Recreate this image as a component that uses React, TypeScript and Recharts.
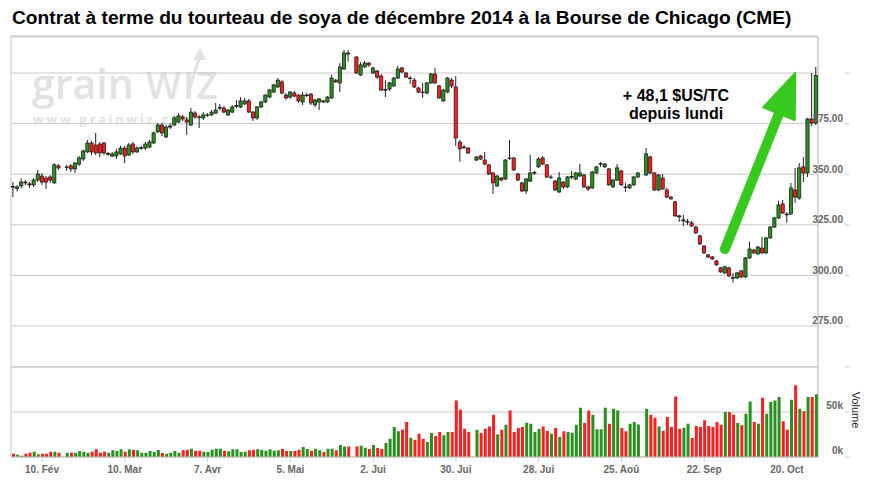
import React from "react";
import { ComposedChart, Bar, XAxis, YAxis, CartesianGrid, Cell, ReferenceLine } from "recharts";

// trading days (weekdays) from 30 Jan 2014 to 29 Oct 2014, holidays left empty
const dates: string[] = [];
for (let t = Date.UTC(2014, 0, 30); dates.length < 195; t += 86400000) {
  const wd = new Date(t).getUTCDay();
  if (wd !== 0 && wd !== 6) dates.push(new Date(t).toISOString().slice(0, 10));
}

const tickDates = ["2014-02-10", "2014-03-10", "2014-04-07", "2014-05-05", "2014-06-02", "2014-06-30", "2014-07-28", "2014-08-25", "2014-09-22", "2014-10-20"];
const tickLabels = ["10. Fév", "10. Mar", "7. Avr", "5. Mai", "2. Jui", "30. Jui", "28. Jui", "25. Aoû", "22. Sep", "20. Oct"];
const priceTicks = [275, 300, 325, 350, 375, 400];
const volumeTicks = [0, 50, 100];

const opens = [
  343.9, 342.9, 344.2, 346.1, 345.2, 344.7, 347.1, 349.1, 348.1, 348.6,
  345.7, 354.1, null, 353.4, 354.1, 352.6, 355.0, 357.5, 361.0, 365.4,
  364.4, 364.9, 365.4, 360.0, 359.0, 359.0, 360.0, 362.9, 359.5, 364.9,
  361.0, 362.9, 362.9, 363.4, 365.4, 370.9, 374.3, 368.4, 373.3, 374.3,
  375.8, 378.3, 376.8, 374.3, 380.2, 378.3, 377.8, 379.3, 379.3, 380.2,
  382.7, 382.7, 379.3, 380.7, 383.7, 383.2, 384.7, 386.2, 380.7, 377.8,
  383.2, 385.7, 388.1, 390.6, 393.1, 395.6, 389.1, 388.1, 390.1, 389.1,
  385.7, 389.1, 389.6, 384.2, 385.7, 386.2, 385.7, 387.7, 396.5, 395.1,
  402.0, 409.9, null, 407.9, 399.0, 403.0, 404.9, 400.0, 401.0, 398.5,
  391.6, 392.1, 393.6, 397.5, 402.5, 400.0, 397.5, 396.5, 392.6, 390.6,
  390.1, 395.1, 399.5, 393.6, 386.2, 390.6, 396.5, 393.1, 365.9, 363.4,
  362.9, null, 357.0, 359.0, 357.0, 354.6, 350.6, 344.2, 348.1, 347.6,
  358.0, 358.0, 350.1, 345.7, 341.7, 346.6, 350.6, 353.6, 358.0, 354.6,
  348.6, 346.6, 341.2, 346.1, 343.7, 348.6, 347.6, 349.1, 349.6, 343.7,
  343.2, 350.6, 355.0, 353.6, 352.6, 343.7, 347.1, 351.6, 343.7, 343.2,
  344.7, 348.6, null, 349.6, 358.5, 350.6, 342.2, 348.1, 342.2, 338.7,
  336.3, 329.4, 326.9, 326.4, 325.9, 323.9, 319.5, 314.5, 310.1, 309.1,
  307.1, 303.7, 301.2, 303.7, 298.9, 298.7, 302.2, 299.2, 308.6, 312.5,
  310.6, 313.5, 311.1, 318.5, 323.9, 328.4, 335.3, 330.3, 330.3, 342.2,
  338.2, 353.6, 350.6, 377.3, 375.3,
];
const highs = [
  346.1, 344.5, 348.0, 347.1, 346.1, 348.1, 352.1, 350.6, 349.1, 349.6,
  355.5, 355.0, null, 354.6, 355.0, 356.0, 359.0, 362.0, 366.9, 366.4,
  370.4, 365.9, 366.0, 361.0, 361.0, 362.5, 364.0, 363.9, 365.4, 365.9,
  363.9, 364.0, 365.9, 366.9, 371.0, 375.3, 375.3, 374.3, 375.3, 378.8,
  380.2, 379.3, 378.3, 382.7, 381.2, 379.3, 380.7, 380.2, 381.7, 385.2,
  384.7, 383.7, 382.2, 384.2, 386.7, 388.1, 387.7, 387.2, 381.2, 383.7,
  386.2, 389.6, 392.1, 394.6, 397.5, 396.5, 390.1, 391.1, 391.1, 389.6,
  390.6, 390.1, 390.1, 387.2, 387.7, 386.7, 388.6, 399.0, 397.0, 404.9,
  411.4, 411.4, null, 408.4, 405.4, 405.9, 405.4, 403.0, 401.5, 399.5,
  396.5, 395.6, 398.0, 403.5, 403.0, 400.5, 398.5, 397.5, 393.1, 395.1,
  395.6, 400.0, 402.5, 394.1, 392.1, 398.0, 397.5, 398.5, 366.9, 364.4,
  363.4, null, 359.0, 359.5, 361.0, 355.0, 351.1, 349.6, 348.6, 357.5,
  366.9, 358.5, 350.6, 346.1, 348.1, 359.5, 351.6, 358.5, 359.0, 355.0,
  349.6, 347.1, 351.1, 346.6, 349.1, 351.6, 351.1, 355.0, 350.1, 344.2,
  351.6, 354.1, 356.0, 355.5, 353.1, 347.6, 355.0, 352.1, 345.7, 345.2,
  349.1, 351.1, null, 362.9, 359.0, 351.1, 350.1, 350.1, 343.2, 339.2,
  336.8, 329.9, 329.9, 327.9, 326.9, 324.4, 320.0, 315.0, 310.6, 309.6,
  307.6, 304.2, 304.7, 304.2, 301.2, 301.7, 302.7, 309.1, 316.7, 313.0,
  314.5, 319.0, 319.0, 324.4, 328.9, 336.8, 337.3, 331.3, 345.7, 353.1,
  355.5, 358.5, 377.8, 400.0, 403.0,
];
const lows = [
  338.7, 341.5, 343.0, 344.5, 343.2, 343.7, 346.1, 344.7, 342.7, 345.7,
  345.2, 352.1, null, 351.6, 351.1, 350.6, 354.1, 356.5, 360.5, 359.5,
  359.5, 358.5, 359.5, 359.0, 358.5, 357.5, 359.5, 355.5, 359.0, 360.0,
  360.5, 362.0, 362.0, 362.9, 364.9, 370.4, 368.9, 367.9, 372.3, 373.8,
  375.3, 376.3, 369.4, 373.8, 377.3, 372.8, 376.8, 378.3, 378.8, 379.8,
  381.7, 380.2, 378.8, 380.2, 382.7, 382.7, 384.2, 380.2, 376.3, 376.8,
  382.7, 385.2, 387.7, 390.1, 392.6, 389.6, 386.7, 387.2, 388.1, 385.2,
  384.2, 388.1, 384.2, 383.2, 381.7, 385.2, 385.2, 387.2, 395.1, 390.6,
  401.5, 405.6, null, 399.5, 398.5, 402.5, 403.0, 399.5, 397.0, 391.1,
  388.1, 391.1, 393.1, 397.0, 400.0, 397.5, 394.6, 392.6, 390.1, 387.7,
  389.6, 394.6, 394.6, 387.2, 385.7, 390.1, 392.6, 364.0, 356.2, 362.4,
  360.0, null, 356.5, 357.0, 354.6, 349.6, 340.2, 343.7, 346.6, 347.1,
  357.0, 351.6, 346.6, 341.2, 340.2, 346.1, 349.6, 353.1, 354.6, 348.1,
  347.6, 341.7, 340.7, 342.7, 343.2, 347.6, 347.1, 348.6, 343.2, 341.7,
  342.7, 350.1, 353.6, 353.1, 344.2, 343.2, 346.6, 344.2, 341.2, 342.7,
  344.2, 348.1, null, 349.1, 350.1, 341.7, 341.7, 342.2, 338.2, 337.3,
  328.9, 326.4, 324.4, 324.9, 323.9, 320.5, 315.0, 310.6, 308.6, 307.6,
  304.7, 301.2, 300.7, 299.2, 296.3, 298.2, 298.7, 298.7, 308.1, 310.6,
  310.1, 310.6, 310.6, 318.0, 323.4, 327.9, 330.3, 325.9, 329.9, 335.8,
  337.3, 346.1, 348.6, 373.8, 374.3,
];
const closes = [
  343.7, 343.7, 346.1, 345.7, 344.7, 347.1, 350.1, 346.1, 346.1, 347.1,
  354.6, 353.1, null, 353.6, 352.6, 355.5, 358.0, 361.5, 365.4, 361.0,
  360.5, 360.5, 360.5, 360.2, 360.0, 361.0, 362.9, 359.0, 364.4, 361.0,
  362.9, 363.1, 364.9, 365.9, 370.4, 374.3, 370.4, 373.3, 373.8, 377.8,
  378.8, 377.3, 375.8, 380.7, 378.3, 378.1, 379.3, 379.3, 380.7, 381.7,
  382.9, 380.7, 381.7, 383.2, 383.9, 386.2, 386.2, 380.7, 377.8, 383.2,
  385.7, 389.1, 391.6, 394.1, 396.5, 390.1, 387.7, 390.6, 388.6, 386.2,
  389.1, 389.1, 385.2, 386.7, 387.2, 385.7, 388.1, 397.5, 395.6, 403.0,
  409.9, 409.4, null, 400.0, 404.0, 404.9, 404.0, 402.5, 398.0, 391.6,
  391.8, 395.1, 397.5, 402.0, 400.5, 398.0, 397.5, 393.1, 390.6, 390.4,
  395.1, 399.5, 395.1, 387.7, 391.6, 397.5, 393.6, 367.9, 362.5, 363.2,
  360.5, null, 358.5, 357.5, 355.0, 350.1, 345.7, 349.1, 347.1, 357.0,
  357.8, 352.1, 347.1, 341.7, 347.6, 350.6, 350.8, 357.5, 355.0, 348.6,
  348.6, 342.2, 348.1, 343.7, 348.6, 348.8, 350.6, 350.6, 343.7, 342.7,
  351.1, 353.6, 355.2, 355.0, 344.7, 347.1, 353.1, 344.7, 343.5, 344.7,
  348.6, 350.6, null, 360.0, 350.6, 342.2, 349.6, 342.7, 338.7, 337.8,
  329.4, 328.9, 327.4, 326.6, 324.4, 321.0, 315.5, 311.1, 309.1, 308.1,
  305.2, 301.7, 304.2, 299.7, 298.7, 301.2, 299.2, 308.6, 313.0, 311.1,
  314.0, 311.1, 318.5, 323.9, 328.4, 334.8, 330.8, 329.9, 343.2, 338.7,
  353.1, 350.6, 377.3, 375.3, 398.7,
];
// volume in thousands of contracts
const volumes = [
  3.7, 2.6, 1.5, 3.7, 4.8, 5.9, 3.0, 3.7, 3.7, 5.9,
  5.9, 4.8, null, 4.8, 4.8, 4.8, 6.7, 5.9, 4.8, 5.9,
  8.5, 4.8, 5.9, 4.8, 7.4, 6.7, 8.5, 5.9, 8.5, 7.8,
  7.4, 4.8, 4.8, 6.7, 5.6, 7.8, 4.4, 3.7, 4.8, 6.7,
  4.8, 7.4, 8.1, 9.3, 7.0, 7.0, 5.9, 5.6, 8.1, 9.3,
  9.3, 7.0, 6.3, 8.5, 8.5, 5.6, 5.9, 7.4, 8.1, 8.5,
  8.1, 7.0, 8.5, 7.0, 7.4, 8.9, 6.7, 6.7, 6.7, 8.1,
  11.1, 8.9, 7.0, 9.3, 7.4, 5.6, 9.3, 9.3, 7.4, 13.3,
  11.8, 11.8, null, 11.8, 12.6, 10.4, 8.9, 13.3, 10.0, 8.9,
  15.5, 20.4, 33.3, 28.5, 30.3, 38.9, 21.5, 19.2, 25.9, 20.4,
  16.7, 26.6, 23.3, 27.8, 24.1, 27.8, 27.8, 62.9, 52.5, 31.5,
  27.8, null, 30.3, 26.6, 31.5, 34.0, 47.0, 25.2, 30.3, 35.9,
  51.8, 27.8, 32.2, 33.3, 38.1, 37.0, 27.8, 31.5, 34.0, 28.9,
  25.9, 32.2, 22.2, 28.5, 27.8, 27.0, 35.9, 54.8, 37.7, 51.8,
  47.0, 30.7, 30.7, 54.8, 37.0, 53.7, 51.8, 32.2, 28.5, 37.0,
  38.9, 36.0, null, 53.7, 47.0, 43.7, 34.0, 28.9, 44.4, 33.3,
  67.3, 31.5, 32.6, 37.0, 21.1, 34.4, 33.3, 40.7, 34.4, 33.3,
  38.9, 35.9, 50.0, 50.0, 47.0, 37.7, 35.2, 48.1, 61.8, 38.9,
  37.0, 65.9, 48.1, 61.1, 62.9, 66.6, 39.6, 30.3, 63.6, 79.6,
  53.7, 50.7, 66.6, 66.6, 69.6,
];

const UP = "#28901f";
const DOWN = "#ff1d1d";
const ARROW = "#38c91f";
const FONT = '"Liberation Sans", Arial, Helvetica, sans-serif';

const rows = dates.map((date, i) => ({
  date,
  open: opens[i],
  high: highs[i],
  low: lows[i],
  close: closes[i],
  volume: volumes[i],
}));

const Candle = (props: any) => {
  const { x, y, width, height, payload } = props;
  if (!payload || payload.open == null) return null;
  const { open, close, high, low } = payload;
  const top = Math.min(y, y + height);
  const h = Math.abs(height);
  const span = high - low || 1;
  const py = (v: number) => top + ((high - v) / span) * h;
  const cx = x + width / 2;
  const bodyTop = py(Math.max(open, close));
  const bodyBot = py(Math.min(open, close));
  const bw = 3.2;
  return (
    <g>
      <line x1={cx} x2={cx} y1={top} y2={top + h} stroke="#222" strokeWidth={1} />
      <rect
        x={cx - bw / 2}
        y={bodyTop}
        width={bw}
        height={Math.max(bodyBot - bodyTop, 0.6)}
        fill={close >= open ? UP : DOWN}
        stroke="#111"
        strokeWidth={0.7}
      />
    </g>
  );
};

const Arrow = (props: any) => {
  const { x1, y1, x2, y2 } = props;
  if (x1 == null) return null;
  const len = Math.hypot(x2 - x1, y2 - y1);
  const ux = (x2 - x1) / len;
  const uy = (y2 - y1) / len;
  const headLen = 44;
  const half = 17;
  const bx = x2 - ux * headLen;
  const by = y2 - uy * headLen;
  return (
    <g>
      <line x1={x1} y1={y1} x2={bx + ux * 4} y2={by + uy * 4} stroke={ARROW} strokeWidth={10} strokeLinecap="round" />
      <polygon
        points={`${x2},${y2} ${bx - uy * half},${by + ux * half} ${bx + uy * half},${by - ux * half}`}
        fill={ARROW}
        stroke={ARROW}
        strokeWidth={2}
        strokeLinejoin="round"
      />
    </g>
  );
};

const PriceTick = (props: any) => {
  const { x, y, payload } = props;
  return (
    <g>
      {payload.value !== 400 && (
        <text x={x + 25} y={y - 1.5} textAnchor="end" fontSize={10} fontWeight="bold" fill="#666" fontFamily={FONT}>
          {payload.value.toFixed(2)}
        </text>
      )}
      <line x1={x + 27} x2={x + 31} y1={y} y2={y} stroke="#c0d0e0" />
    </g>
  );
};

const VolumeTick = (props: any) => {
  const { x, y, payload } = props;
  return (
    <g>
      {payload.value !== 100 && (
        <text x={x + 25} y={y - 3} textAnchor="end" fontSize={10} fontWeight="bold" fill="#666" fontFamily={FONT}>
          {payload.value}k
        </text>
      )}
      <line x1={x + 27} x2={x + 31} y1={y} y2={y} stroke="#c0d0e0" />
    </g>
  );
};

const DateTick = (props: any) => {
  const { x, y, payload } = props;
  const k = tickDates.indexOf(payload.value);
  if (k < 0) return null;
  return (
    <g>
      <line x1={x} x2={x} y1={y} y2={y + 5} stroke="#c0d0e0" />
      <text x={x} y={y + 16} textAnchor="middle" fontSize={10} fontWeight="bold" fill="#666" fontFamily={FONT}>
        {tickLabels[k]}
      </text>
    </g>
  );
};

const layer: React.CSSProperties = { position: "absolute", left: 0, top: 0 };

export default function App() {
  return (
    <div style={{ position: "absolute", left: 0, top: 0, width: 870, height: 490, background: "#fff", overflow: "hidden", fontFamily: FONT }}>
      <svg width={870} height={490} style={layer}>
        {/* faint site watermark behind the plot */}
        <g fill="#e2e2e2" fontFamily='"Open Sans", "DejaVu Sans", sans-serif'>
          <text x={32} y={99} fontSize={41} fontWeight="600">grain</text>
          <text x={146} y={99} fontSize={37} fontWeight="600" letterSpacing={2}>WIZ</text>
          <text x={33} y={124} fontSize={12.5} fontWeight="bold" letterSpacing={2.8}>www.grainwiz.com</text>
        </g>
        <line x1={188} y1={94} x2={199} y2={58} stroke="#e2e2e2" strokeWidth={3} />
        <polygon points="200,48 193,60 206,60" fill="#e2e2e2" />
        <line x1={11} y1={37} x2={11} y2={457} stroke="#c8c8c8" />
        <line x1={10} y1={36} x2={818} y2={36} stroke="#dedede" strokeWidth={2} />
        <line x1={818} y1={36} x2={818} y2={458} stroke="#d8d8d8" strokeWidth={2} />
      </svg>

      <div style={layer}>
        <ComposedChart width={870} height={490} data={rows} margin={{ top: 37, right: 0, bottom: 123, left: 11 }}>
          <CartesianGrid vertical={false} stroke="#c8c8c8" />
          <XAxis dataKey="date" hide />
          <YAxis
            orientation="right"
            width={52}
            type="number"
            domain={[254.7, 417.8]}
            allowDataOverflow
            ticks={priceTicks}
            interval={0}
            axisLine={false}
            tickLine={false}
            tickSize={0}
            tickMargin={0}
            tick={(p: any) => <PriceTick {...p} />}
          />
          <Bar
            dataKey={(d: any) => (d.open == null ? null : [d.low, d.high])}
            shape={(p: any) => <Candle {...p} />}
            isAnimationActive={false}
          />
          <ReferenceLine
            segment={[
              { x: dates[172], y: 313.0 },
              { x: dates[189], y: 400.1 },
            ]}
            shape={(p: any) => <Arrow {...p} />}
          />
        </ComposedChart>
      </div>

      <div style={layer}>
        <ComposedChart width={870} height={490} data={rows} margin={{ top: 367, right: 0, bottom: 0, left: 11 }}>
          <CartesianGrid vertical={false} stroke="#c8c8c8" />
          <XAxis
            dataKey="date"
            height={33}
            interval={0}
            stroke="#c0c0c0"
            tickLine={false}
            tickSize={0}
            tickMargin={0}
            tick={(p: any) => <DateTick {...p} />}
          />
          <YAxis
            orientation="right"
            width={52}
            type="number"
            domain={[0, 100]}
            allowDataOverflow
            ticks={volumeTicks}
            interval={0}
            axisLine={false}
            tickLine={false}
            tickSize={0}
            tickMargin={0}
            tick={(p: any) => <VolumeTick {...p} />}
          />
          <Bar dataKey="volume" barSize={3} isAnimationActive={false}>
            {rows.map((r, i) => (
              <Cell key={i} fill={r.close != null && r.open != null && r.close >= r.open ? UP : DOWN} />
            ))}
          </Bar>
        </ComposedChart>
      </div>

      <svg width={870} height={490} style={{ ...layer, pointerEvents: "none" }}>
        <text x={12} y={24} fontSize={19.2} fontWeight="bold" fill="#000" fontFamily={FONT}>
          Contrat à terme du tourteau de soya de décembre 2014 à la Bourse de Chicago (CME)
        </text>
        <text x={676} y={101} textAnchor="middle" fontSize={16} fontWeight="bold" fill="#000" fontFamily={FONT}>
          + 48,1 $US/TC
        </text>
        <text x={676} y={119} textAnchor="middle" fontSize={16} fontWeight="bold" fill="#000" fontFamily={FONT}>
          depuis lundi
        </text>
        <text x={852} y={410} textAnchor="middle" fontSize={11} fill="#222" fontFamily={FONT} transform="rotate(90 852 410)">
          Volume
        </text>
      </svg>
    </div>
  );
}
